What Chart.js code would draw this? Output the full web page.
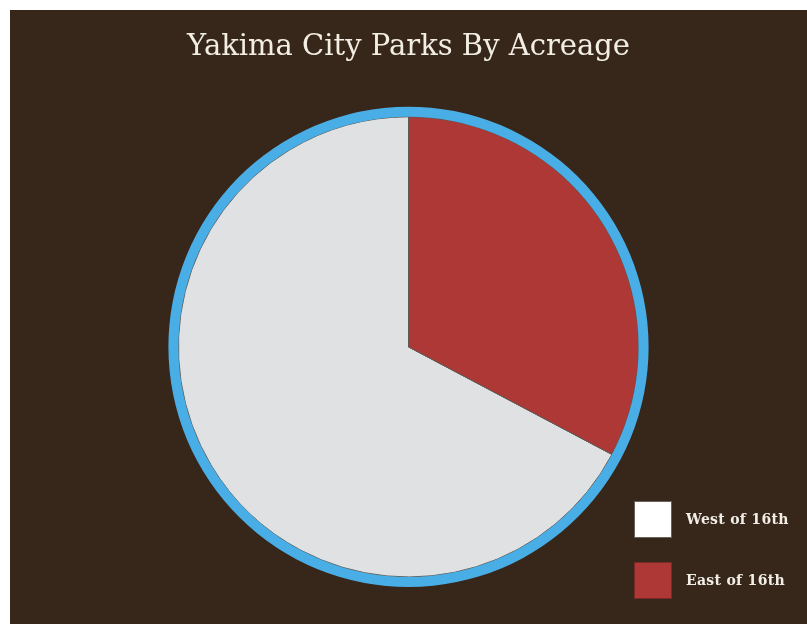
<!DOCTYPE html>
<html>
<head>
<meta charset="utf-8">
<script src="https://cdn.jsdelivr.net/npm/chart.js@4"></script>
<style>
    body { margin: 0; background: #ffffff; }
    #wrap { position: absolute; left: 10px; top: 10px; width: 797px; height: 614px; background: #37261a; }
    #legend { position: absolute; left: 624px; top: 490px; font-family: "DejaVu Serif", serif; font-weight: bold; font-size: 14px; letter-spacing: 0.3px; color: #f2eee6; }
    .item { display: flex; align-items: center; height: 38px; margin-bottom: 23px; }
    .box { width: 36px; height: 35px; border: 1px solid #6b625a; margin-right: 14px; }
</style>
</head>
<body>
<div id="wrap">
    <canvas id="parksChart" width="797" height="614"></canvas>
    <div id="legend"></div>
</div>
<script>
// Acres de parques por zona de la ciudad
const zonas = ["West of 16th", "East of 16th"];
const acres = [302, 147];
const colores = ["#e0e1e2", "#ad3836"];
const coloresLeyenda = ["#ffffff", "#ad3836"];

// La parte "East" empieza arriba y gira en sentido horario
const totalAcres = acres.reduce((a, b) => a + b, 0);
const rotacion = acres[1] / totalAcres * 360;

const ctx = document.getElementById("parksChart").getContext("2d");
new Chart(ctx, {
    type: "pie",
    data: {
        labels: zonas,
        datasets: [
            {
                // anillo azul exterior
                data: [1],
                backgroundColor: ["#4aaee6"],
                borderWidth: 0,
                weight: 10
            },
            {
                data: acres,
                backgroundColor: colores,
                borderColor: "#5e5a56",
                borderWidth: 1,
                weight: 230
            }
        ]
    },
    options: {
        responsive: false,
        animation: false,
        events: [],
        rotation: rotacion,
        layout: { padding: { bottom: 37 } },
        plugins: {
            legend: { display: false },
            tooltip: { enabled: false },
            title: {
                display: true,
                text: "Yakima City Parks By Acreage",
                color: "#f3eee3",
                font: { family: "DejaVu Serif", size: 29, weight: "normal" },
                padding: { top: 20, bottom: 42 }
            }
        }
    }
});

// Leyenda abajo a la derecha
const legend = document.getElementById("legend");
zonas.forEach((zona, i) => {
    const item = document.createElement("div");
    item.className = "item";
    const box = document.createElement("div");
    box.className = "box";
    box.style.background = coloresLeyenda[i];
    if (i === 1) box.style.borderColor = "#7a2a26";
    const label = document.createElement("span");
    label.textContent = zona;
    item.appendChild(box);
    item.appendChild(label);
    legend.appendChild(item);
});
</script>
</body>
</html>
